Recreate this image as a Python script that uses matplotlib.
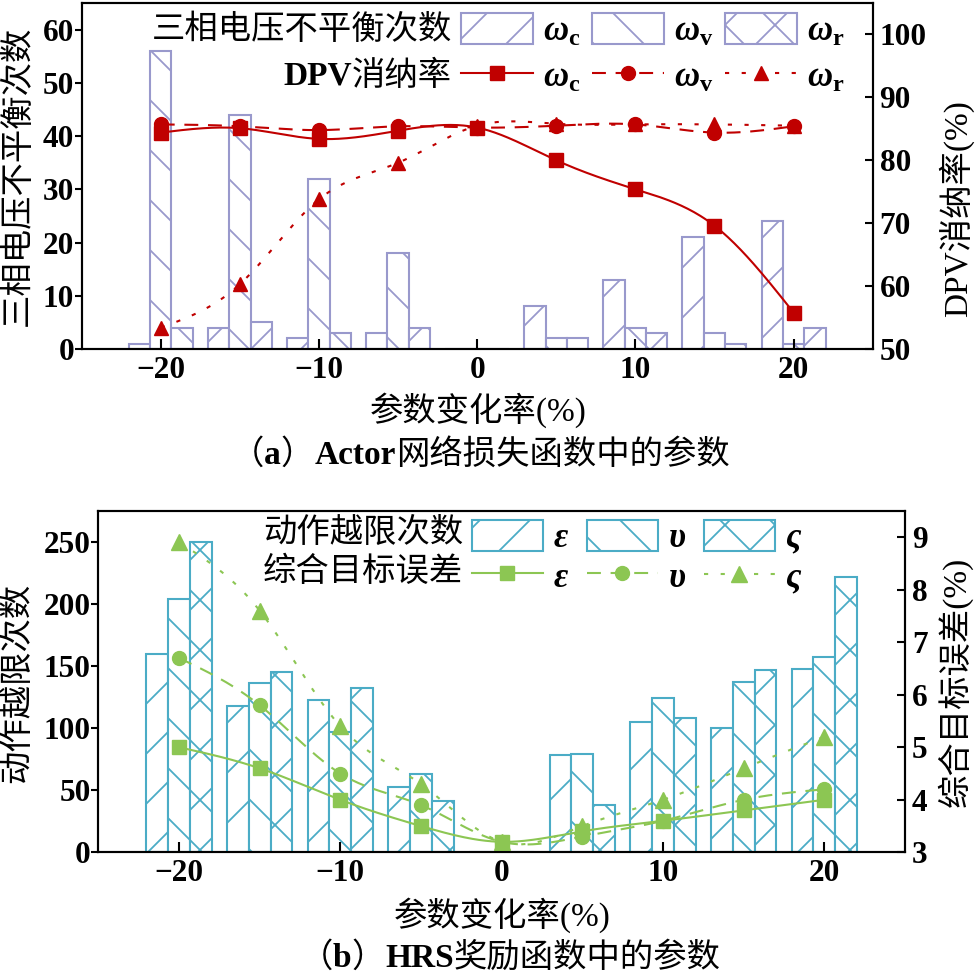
import numpy as np
import matplotlib
matplotlib.use("Agg")
import matplotlib.pyplot as plt
from matplotlib.lines import Line2D
from matplotlib.backend_bases import GraphicsContextBase
from matplotlib.offsetbox import TextArea, HPacker, AnnotationBbox

plt.rcParams['font.family'] = ['Liberation Serif', 'Noto Sans CJK SC']
plt.rcParams['mathtext.fontset'] = 'custom'
plt.rcParams['mathtext.it'] = 'Liberation Serif:italic:bold'
plt.rcParams['mathtext.bf'] = 'Liberation Serif:bold'
plt.rcParams['mathtext.rm'] = 'Liberation Serif:bold'
plt.rcParams['hatch.linewidth'] = 1.3
plt.rcParams['lines.scale_dashes'] = False
plt.rcParams['axes.unicode_minus'] = True

# wider hatch spacing than matplotlib's default (6 lines per inch)
_hatch_path = GraphicsContextBase.get_hatch_path
GraphicsContextBase.get_hatch_path = lambda self, density=4.0: _hatch_path(self, density)

# ---- data ----
x = np.array([-20, -15, -10, -5, 0, 5, 10, 15, 20])

# (a) 三相电压不平衡次数 (bars) / DPV消纳率 (lines)
unbal_c = [1, 4, 2, 3, 0, 8, 13, 21, 24]
unbal_v = [56, 44, 32, 18, 0, 2, 4, 3, 1]
unbal_r = [4, 5, 3, 4, 0, 2, 3, 1, 4]
dpv_c = [84.4, 85.1, 83.4, 84.7, 85.2, 80.0, 75.4, 69.6, 55.8]
dpv_v = [85.7, 85.4, 84.8, 85.4, 85.2, 85.5, 85.7, 84.4, 85.4]
dpv_r = [53.4, 60.3, 73.8, 79.6, 85.5, 85.8, 85.7, 85.7, 85.5]

# (b) 动作越限次数 (bars) / 综合目标误差 (lines)
over_e = [160, 118, 123, 53, 0, 78, 105, 100, 148]
over_u = [204, 136, 97, 63, 0, 79, 124, 137, 157]
over_s = [250, 145, 132, 41, 0, 38, 108, 147, 222]
err_e = [5.0, 4.6, 4.0, 3.5, 3.2, 3.4, 3.6, 3.8, 4.0]
err_u = [6.7, 5.8, 4.5, 3.9, 3.2, 3.3, 3.6, 4.0, 4.2]
err_s = [8.9, 7.6, 5.4, 4.3, 3.2, 3.5, 4.0, 4.6, 5.2]

lab_a = [r'$\omega_\mathbf{c}$', r'$\omega_\mathbf{v}$', r'$\omega_\mathbf{r}$']
lab_b = [r'$\varepsilon$', r'$\upsilon$', r'$\varsigma$']

purple = '#9999CC'
red = '#C00000'
blue = '#4BACC6'
green = '#8CC653'

CJK = ['Liberation Serif', 'Noto Sans CJK SC']
TICK = 22.5


def smooth(xp, yp, n=300):
    # natural cubic spline through the points (only for drawing the curve)
    xp = np.asarray(xp, float)
    yp = np.asarray(yp, float)
    h = np.diff(xp)
    m = len(xp)
    A = np.zeros((m, m))
    r = np.zeros(m)
    A[0, 0] = A[-1, -1] = 1
    for i in range(1, m - 1):
        A[i, i - 1] = h[i - 1]
        A[i, i] = 2 * (h[i - 1] + h[i])
        A[i, i + 1] = h[i]
        r[i] = 3 * ((yp[i + 1] - yp[i]) / h[i] - (yp[i] - yp[i - 1]) / h[i - 1])
    c = np.linalg.solve(A, r)
    b = (yp[1:] - yp[:-1]) / h - h * (2 * c[:-1] + c[1:]) / 3
    d = (c[1:] - c[:-1]) / (3 * h)
    xs = np.linspace(xp[0], xp[-1], n)
    idx = np.clip(np.searchsorted(xp, xs) - 1, 0, m - 2)
    dx = xs - xp[idx]
    ys = yp[idx] + b[idx] * dx + c[idx] * dx ** 2 + d[idx] * dx ** 3
    return xs, ys


def mixed(parts, xy, coords, align):
    # text with bold latin pieces and regular CJK pieces side by side
    boxes = [TextArea(s, textprops=dict(fontsize=24, family=CJK, fontweight=wt))
             for s, wt in parts]
    pack = HPacker(children=boxes, align='baseline', pad=0, sep=0)
    ab = AnnotationBbox(pack, xy, xycoords=coords, box_alignment=align,
                        frameon=False, pad=0)
    fig.add_artist(ab)


def panel(rect, bars, lines, bcol, lcol, ylim_l, yticks_l, ylim_r, yticks_r,
          labels, msizes, leg_anchor, leg_kw):
    ax = fig.add_axes(rect)
    axr = ax.twinx()
    w = 1.35
    hatches = ['/', '\\', 'x']
    bar_handles = []
    for k, (vals, hh) in enumerate(zip(bars, hatches)):
        bc = ax.bar(x + (k - 1) * w, vals, w, facecolor='white', edgecolor=bcol,
                    hatch=hh, linewidth=1.5)
        bar_handles.append(bc)
    styles = ['-', (0, (10, 7)), (0, (3, 9))]
    marks = ['s', 'o', '^']
    line_handles = []
    for vals, ls, mk, ms in zip(lines, styles, marks, msizes):
        xs, ys = smooth(x, vals)
        axr.plot(xs, ys, color=lcol, lw=1.5, ls=ls)
        axr.plot(x, vals, ls='none', marker=mk, ms=ms, color=lcol)
        line_handles.append(Line2D([], [], color=lcol, lw=1.5, ls=ls, marker=mk, ms=ms))

    ax.set_xlim(-25, 25)
    ax.set_xticks([-20, -10, 0, 10, 20])
    ax.set_ylim(*ylim_l)
    ax.set_yticks(yticks_l)
    axr.set_ylim(*ylim_r)
    axr.set_yticks(yticks_r)
    ax.tick_params(axis='x', direction='in', length=7, width=1.5, pad=5, labelsize=TICK)
    ax.tick_params(axis='y', direction='out', length=5, width=1.5, pad=0.5, labelsize=TICK)
    axr.tick_params(axis='y', direction='in', length=6, width=1.5, pad=5, labelsize=TICK)
    for a in (ax, axr):
        for s in a.spines.values():
            s.set_linewidth(1.5)
        for t in a.get_xticklabels() + a.get_yticklabels():
            t.set_fontweight('bold')

    handles = []
    labs = []
    for bh, lh, lb in zip(bar_handles, line_handles, labels):
        handles += [bh, lh]
        labs += [lb, lb]
    axr.legend(handles, labs, ncol=3, loc='upper left', bbox_to_anchor=leg_anchor,
               frameon=False, fontsize=25, borderpad=0, borderaxespad=0, **leg_kw)
    return ax, axr


fig = plt.figure(figsize=(9.77, 9.77), dpi=100)

# ---- panel (a) ----
ax1, ax1r = panel([0.0836, 0.6428, 0.8096, 0.3541],
                  [unbal_c, unbal_v, unbal_r], [dpv_c, dpv_v, dpv_r],
                  purple, red, (0, 65), range(0, 61, 10), (50, 105), range(50, 101, 10),
                  lab_a, [9.5, 10, 10.5], (0.480, 0.970),
                  dict(handlelength=2.05, handleheight=1.0, handletextpad=0.3,
                       columnspacing=0.35, labelspacing=0.3))
ax1r.text(0.468, 0.922, '三相电压不平衡次数', transform=ax1r.transAxes, ha='right',
          va='center', fontsize=24, family=CJK)
mixed([('DPV', 'bold'), ('消纳率', 'normal')], (0.468, 0.789), ax1r.transAxes, (1, 0.5))

# ---- panel (b) ----
ax2, ax2r = panel([0.1006, 0.1276, 0.8257, 0.3496],
                  [over_e, over_u, over_s], [err_e, err_u, err_s],
                  blue, green, (0, 275), range(0, 251, 50), (3, 9.5), range(3, 10),
                  lab_b, [9.5, 10, 11], (0.463, 0.973),
                  dict(handlelength=2.05, handleheight=1.0, handletextpad=0.3,
                       columnspacing=0.5, labelspacing=0.12))
ax2r.text(0.4525, 0.935, '动作越限次数', transform=ax2r.transAxes, ha='right',
          va='center', fontsize=24, family=CJK)
ax2r.text(0.4525, 0.821, '综合目标误差', transform=ax2r.transAxes, ha='right',
          va='center', fontsize=24, family=CJK)

# ---- axis labels and captions ----
fig.text(18 / 977, 1 - 176 / 977, '三相电压不平衡次数', rotation=90, ha='center',
         va='center', fontsize=24, family=CJK)
fig.text(956 / 977, 1 - 209 / 977, 'DPV消纳率(%)', rotation=90, ha='center',
         va='center', fontsize=24, family=CJK)
fig.text(478 / 977, 1 - 410 / 977, '参数变化率(%)', ha='center', va='center',
         fontsize=24, family=CJK)
mixed([('（', 'normal'), ('a', 'bold'), ('）', 'normal'), ('Actor', 'bold'),
       ('网络损失函数中的参数', 'normal')], (480 / 977, 1 - 455 / 977),
      'figure fraction', (0.5, 0.5))

fig.text(18 / 977, 1 - 683 / 977, '动作越限次数', rotation=90, ha='center',
         va='center', fontsize=24, family=CJK)
fig.text(955 / 977, 1 - 682 / 977, '综合目标误差(%)', rotation=90, ha='center',
         va='center', fontsize=24, family=CJK)
fig.text(502 / 977, 1 - 915 / 977, '参数变化率(%)', ha='center', va='center',
         fontsize=24, family=CJK)
mixed([('（', 'normal'), ('b', 'bold'), ('）', 'normal'), ('HRS', 'bold'),
       ('奖励函数中的参数', 'normal')], (510 / 977, 1 - 958 / 977),
      'figure fraction', (0.5, 0.5))

fig.savefig('out.png', dpi=100)
